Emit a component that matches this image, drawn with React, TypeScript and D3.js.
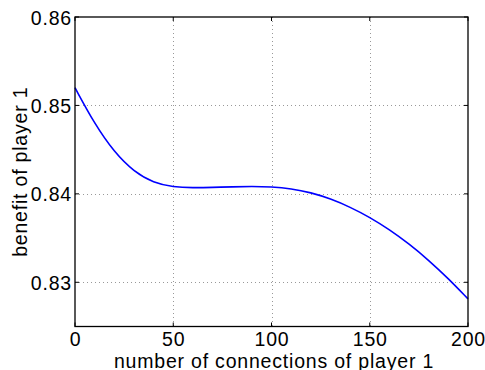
import React, { FC, useEffect, useRef } from "react";
import * as d3 from "d3";

// connections of player 1 (x) and the benefit (y)
const connections = [0, 10, 20, 30, 40, 50, 60, 70, 80, 90, 100, 110, 120, 130, 140, 150, 160, 170, 180, 190, 200];
const benefit = [
    0.8520, 0.8479, 0.8447, 0.8425, 0.84125, 0.84077, 0.84068, 0.84073, 0.84080, 0.84084, 0.84080,
    0.84060, 0.84015, 0.83945, 0.83851, 0.83735, 0.83596, 0.83434, 0.83250, 0.83042, 0.82812,
];
const xTicks = [0, 50, 100, 150, 200];
const yTicks = [0.83, 0.84, 0.85, 0.86];

const width = 485;
const height = 370;
const margin = { top: 17, right: 17, bottom: 43.5, left: 75 };
const font = "'Liberation Sans', Arial, Helvetica, sans-serif";

const App: FC = () => {
    const svgRef = useRef<SVGSVGElement | null>(null);

    useEffect(() => {
        if (!svgRef.current) return;
        const svg = d3.select(svgRef.current);
        svg.selectAll("*").remove();

        const x = d3.scaleLinear().domain([0, 200]).range([margin.left, width - margin.right]);
        const y = d3.scaleLinear().domain([0.825, 0.86]).range([height - margin.bottom, margin.top]);

        const [x0, x1] = x.range();
        const [y0, y1] = y.range();

        // dotted grid
        const grid = svg.append("g")
            .attr("stroke", "#999")
            .attr("stroke-width", 1)
            .attr("stroke-dasharray", "1,3");
        grid.selectAll("line.gx")
            .data(xTicks.filter(t => t > 0 && t < 200))
            .join("line")
            .attr("class", "gx")
            .attr("x1", d => Math.round(x(d)) + 0.5)
            .attr("x2", d => Math.round(x(d)) + 0.5)
            .attr("y1", y1)
            .attr("y2", y0);
        grid.selectAll("line.gy")
            .data(yTicks.filter(t => t < 0.86))
            .join("line")
            .attr("class", "gy")
            .attr("x1", x0)
            .attr("x2", x1)
            .attr("y1", d => Math.round(y(d)) + 0.5)
            .attr("y2", d => Math.round(y(d)) + 0.5);

        // curve (b-spline keeps it smooth between the read-off points)
        const line = d3.line<number>()
            .x((_, i) => x(connections[i]))
            .y(d => y(d))
            .curve(d3.curveBasis);
        svg.append("path")
            .datum(benefit)
            .attr("fill", "none")
            .attr("stroke", "#0000ff")
            .attr("stroke-width", 1.6)
            .attr("d", line);

        // axes box
        svg.append("rect")
            .attr("x", x0)
            .attr("y", y1)
            .attr("width", x1 - x0)
            .attr("height", y0 - y1)
            .attr("fill", "none")
            .attr("stroke", "#000")
            .attr("stroke-width", 1.3);

        // inward ticks on all sides
        const tickLen = 4;
        const ticks = svg.append("g").attr("stroke", "#000").attr("stroke-width", 1);
        xTicks.forEach(t => {
            ticks.append("line").attr("x1", x(t)).attr("x2", x(t)).attr("y1", y0).attr("y2", y0 - tickLen);
            ticks.append("line").attr("x1", x(t)).attr("x2", x(t)).attr("y1", y1).attr("y2", y1 + tickLen);
        });
        yTicks.forEach(t => {
            ticks.append("line").attr("x1", x0).attr("x2", x0 + tickLen).attr("y1", y(t)).attr("y2", y(t));
            ticks.append("line").attr("x1", x1).attr("x2", x1 - tickLen).attr("y1", y(t)).attr("y2", y(t));
        });

        const labelStyle = (sel: d3.Selection<SVGTextElement, any, any, any>) =>
            sel.attr("font-family", font)
                .attr("font-size", 19.5)
                .attr("letter-spacing", 0.8)
                .attr("fill", "#000");

        // tick labels
        svg.selectAll("text.xt")
            .data(xTicks)
            .join("text")
            .attr("class", "xt")
            .attr("x", d => x(d) + 0.5)
            .attr("y", 346)
            .attr("text-anchor", "middle")
            .text(d => String(d))
            .call(labelStyle);
        svg.selectAll("text.yt")
            .data(yTicks)
            .join("text")
            .attr("class", "yt")
            .attr("x", x0 - 3)
            .attr("y", d => y(d) + 7.5)
            .attr("text-anchor", "end")
            .text(d => d.toFixed(2))
            .call(labelStyle);

        // axis titles
        svg.append("text")
            .attr("x", 274)
            .attr("y", 367.5)
            .attr("text-anchor", "middle")
            .text("number of connections of player 1")
            .call(labelStyle);
        svg.append("text")
            .attr("transform", `translate(27,${(y0 + y1) / 2}) rotate(-90)`)
            .attr("text-anchor", "middle")
            .text("benefit of player 1")
            .call(labelStyle);
    }, []);

    return (
        <svg
            ref={svgRef}
            width={width}
            height={height}
            style={{ position: "absolute", left: 0, top: 0, background: "#fff" }}
        />
    );
};

export default App;
